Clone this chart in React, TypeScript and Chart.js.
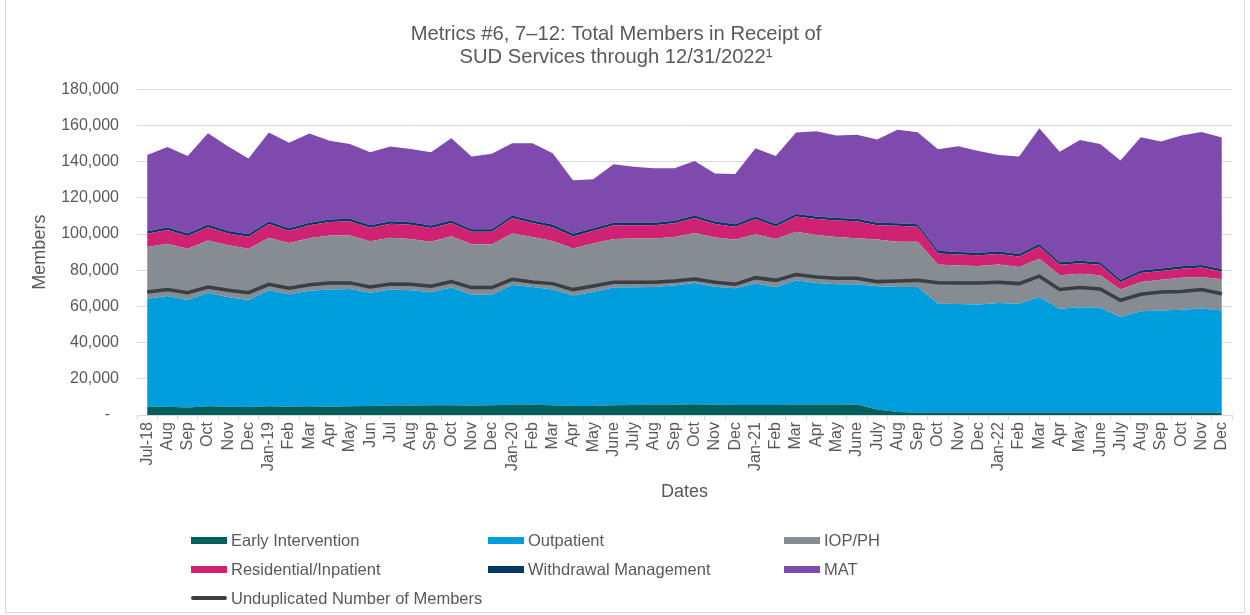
import React, { useEffect, useRef } from "react";
import { Chart, registerables } from "chart.js";

Chart.register(...registerables);

const LABELS = [
  "Jul-18", "Aug", "Sep", "Oct", "Nov", "Dec",
  "Jan-19", "Feb", "Mar", "Apr", "May", "Jun", "Jul", "Aug", "Sep", "Oct", "Nov", "Dec",
  "Jan-20", "Feb", "Mar", "Apr", "May", "June", "July", "Aug", "Sep", "Oct", "Nov", "Dec",
  "Jan-21", "Feb", "Mar", "Apr", "May", "June", "July", "Aug", "Sep", "Oct", "Nov", "Dec",
  "Jan-22", "Feb", "Mar", "Apr", "May", "June", "July", "Aug", "Sep", "Oct", "Nov", "Dec",
];

const EARLY_INTERVENTION = [
  4600, 4600, 4200, 4800, 4600, 4400, 4800, 4600, 4800, 4600, 4800, 5000, 5200, 5200, 5400, 5400, 5200, 5400,
  5700, 5700, 5400, 5000, 5000, 5400, 5500, 5700, 5700, 5900, 5700, 5500, 5500, 5500, 5700, 5700, 5700, 5800,
  3000, 1600, 1300, 1300, 1300, 1300, 1300, 1300, 1300, 1300, 1300, 1300, 1300, 1300, 1300, 1300, 1300, 1300,
];

const OUTPATIENT = [
  59700, 61200, 59300, 62800, 60400, 59100, 64100, 62100, 63900, 64800, 64800, 62600, 64100, 63700, 62400, 65000, 61300, 61100,
  66100, 65000, 63900, 61100, 63000, 65000, 65100, 65000, 65800, 67100, 65200, 64500, 67100, 65200, 68700, 67300, 66500, 66400,
  68100, 69100, 69400, 60200, 60000, 59700, 60600, 60200, 63900, 57400, 58200, 58000, 52800, 56000, 56500, 56900, 57600, 56500,
];

const IOP_PH = [
  28600, 28800, 28300, 28800, 28800, 28300, 29000, 28400, 29000, 29800, 29600, 28400, 28600, 28400, 27900, 28400, 27900, 27700,
  28500, 27700, 26900, 25900, 26700, 26900, 26900, 26800, 26800, 27500, 27200, 27000, 27300, 26500, 26800, 26400, 26200, 25500,
  25900, 25000, 25000, 21600, 21300, 21400, 21200, 20300, 21200, 18500, 18600, 17900, 15200, 16200, 17000, 17700, 17400, 17200,
];

const RESIDENTIAL = [
  7200, 7600, 7100, 7400, 6500, 6700, 7600, 6700, 7200, 7400, 7800, 7500, 7800, 7800, 7600, 7300, 6900, 7100,
  8500, 7700, 7600, 6700, 7100, 7500, 7300, 7400, 7600, 8300, 7400, 7000, 8400, 7000, 8500, 8900, 9100, 9300,
  7900, 8900, 8300, 6200, 6100, 5900, 5800, 5800, 6700, 5800, 5800, 5800, 4100, 4900, 4800, 4900, 5200, 4300,
];

const WITHDRAWAL = [
  1400, 1400, 1400, 1400, 1400, 1400, 1400, 1400, 1400, 1400, 1400, 1400, 1400, 1400, 1400, 1400, 1400, 1400,
  1400, 1400, 1400, 1400, 1400, 1400, 1400, 1400, 1400, 1400, 1400, 1400, 1400, 1400, 1400, 1400, 1400, 1400,
  1400, 1400, 1400, 1400, 1400, 1400, 1400, 1400, 1400, 1400, 1400, 1400, 1400, 1400, 1400, 1400, 1400, 1400,
];

const MAT = [
  42200, 44500, 42800, 50500, 46600, 41900, 49200, 47300, 49200, 43600, 41400, 40300, 41200, 40500, 40500, 45400, 40100, 41600,
  40000, 42700, 39400, 29600, 27000, 32300, 31000, 30000, 29000, 30200, 26600, 27800, 37700, 37500, 45000, 47100, 45500, 46400,
  45900, 51600, 50900, 56100, 58400, 56200, 53400, 53800, 64000, 61100, 66700, 65400, 65800, 73700, 70100, 72200, 73500, 72600,
];

const UNDUPLICATED = [
  68000, 69400, 67600, 70700, 68900, 67600, 72200, 70000, 72000, 73000, 73000, 70700, 72400, 72200, 71100, 73700, 70400, 70400,
  75000, 73500, 72600, 69300, 71300, 73300, 73300, 73300, 74100, 75200, 73300, 72200, 75900, 74400, 77600, 76300, 75500, 75500,
  73700, 74100, 74400, 73100, 73000, 73000, 73300, 72600, 76700, 69400, 70400, 69600, 63400, 66700, 68000, 68200, 69300, 67000,
];

const COLORS = {
  early: "#005F5A",
  outpatient: "#009DDC",
  iop: "#878C92",
  residential: "#CF2272",
  withdrawal: "#003865",
  mat: "#7F4AAD",
  undup: "#3B3E43",
};

const FONT = "'Liberation Sans', Arial, Helvetica, sans-serif";
const TEXT = "#595959";
const GRID = "#D9D9D9";

const LEGEND_ITEMS = [
  { label: "Early Intervention", color: COLORS.early, line: false },
  { label: "Outpatient", color: COLORS.outpatient, line: false },
  { label: "IOP/PH", color: COLORS.iop, line: false },
  { label: "Residential/Inpatient", color: COLORS.residential, line: false },
  { label: "Withdrawal Management", color: COLORS.withdrawal, line: false },
  { label: "MAT", color: COLORS.mat, line: false },
  { label: "Unduplicated Number of Members", color: COLORS.undup, line: true },
];

function area(label: string, data: number[], color: string, fill: string) {
  return {
    type: "line" as const,
    label,
    data,
    backgroundColor: color,
    borderColor: "rgba(0,0,0,0)",
    borderWidth: 0,
    pointRadius: 0,
    pointHoverRadius: 0,
    tension: 0,
    fill,
    stack: "services",
  };
}

export default function App() {
  const ref = useRef<HTMLCanvasElement>(null);

  useEffect(() => {
    if (!ref.current) return;
    const chart = new Chart(ref.current, {
      type: "line",
      data: {
        labels: LABELS,
        datasets: [
          area("Early Intervention", EARLY_INTERVENTION, COLORS.early, "origin"),
          area("Outpatient", OUTPATIENT, COLORS.outpatient, "-1"),
          area("IOP/PH", IOP_PH, COLORS.iop, "-1"),
          area("Residential/Inpatient", RESIDENTIAL, COLORS.residential, "-1"),
          area("Withdrawal Management", WITHDRAWAL, COLORS.withdrawal, "-1"),
          area("MAT", MAT, COLORS.mat, "-1"),
          {
            type: "line",
            label: "Unduplicated Number of Members",
            data: UNDUPLICATED,
            borderColor: COLORS.undup,
            backgroundColor: COLORS.undup,
            borderWidth: 3.5,
            pointRadius: 0,
            pointHoverRadius: 0,
            tension: 0,
            fill: false,
            stack: "undup",
            order: -1,
          },
        ] as any,
      },
      options: {
        responsive: false,
        animation: false,
        events: [],
        layout: { padding: { left: 0, right: 18, top: 0, bottom: 110 } },
        plugins: {
          legend: { display: false },
          tooltip: { enabled: false },
          title: {
            display: true,
            text: ["Metrics #6, 7\u201312: Total Members in Receipt of", "SUD Services through 12/31/2022\u00B9"],
            color: TEXT,
            font: { family: FONT, size: 20.2, weight: "normal", lineHeight: 1.125 },
            padding: { top: 23, bottom: 20.8 },
          },
        },
        scales: {
          x: {
            offset: true,
            grid: {
              display: true,
              drawOnChartArea: false,
              drawTicks: true,
              tickLength: 5,
              color: GRID,
              offset: true,
            },
            border: { display: true, color: GRID },
            ticks: {
              autoSkip: false,
              maxRotation: 90,
              minRotation: 90,
              padding: 2,
              color: TEXT,
              font: { family: FONT, size: 16 },
            },
            title: {
              display: true,
              text: "Dates",
              color: TEXT,
              font: { family: FONT, size: 18 },
              padding: { top: 0, bottom: 2 },
            },
            afterFit: (s: any) => {
              s.height = 90;
            },
          },
          y: {
            stacked: true,
            min: 0,
            max: 180000,
            ticks: {
              stepSize: 20000,
              padding: 18,
              color: TEXT,
              font: { family: FONT, size: 16 },
              callback: (v: any) => (Number(v) === 0 ? "-  " : Number(v).toLocaleString("en-US")),
            },
            grid: { color: GRID, drawTicks: false },
            border: { display: false },
            title: {
              display: true,
              text: "Members",
              color: TEXT,
              font: { family: FONT, size: 18 },
              padding: { top: 29, bottom: 0 },
            },
            afterFit: (s: any) => {
              s.width = 137;
            },
          },
        },
      } as any,
    });
    return () => chart.destroy();
  }, []);

  return (
    <div style={{ position: "absolute", left: 0, top: 0, width: 1250, height: 615, background: "#fff", fontFamily: FONT }}>
      <canvas ref={ref} width={1250} height={615} style={{ display: "block", position: "absolute", left: 0, top: 0 }} />
      <div
        style={{
          position: "absolute",
          left: 5,
          top: -1,
          width: 1238,
          height: 612,
          border: `1px solid ${GRID}`,
          pointerEvents: "none",
        }}
      />
      <div
        style={{
          position: "absolute",
          left: 191,
          top: 525.5,
          display: "grid",
          gridTemplateColumns: "297px 296px 200px",
          gridAutoRows: "29px",
          color: TEXT,
          fontSize: 16.5,
          fontFamily: FONT,
        }}
      >
        {LEGEND_ITEMS.map((it) => (
          <div key={it.label} style={{ display: "flex", alignItems: "center", whiteSpace: "nowrap" }}>
            <span
              style={{
                display: "inline-block",
                width: 36,
                height: it.line ? 4 : 7,
                borderRadius: it.line ? 2 : 0,
                background: it.color,
                marginRight: 4,
              }}
            />
            <span>{it.label}</span>
          </div>
        ))}
      </div>
    </div>
  );
}
